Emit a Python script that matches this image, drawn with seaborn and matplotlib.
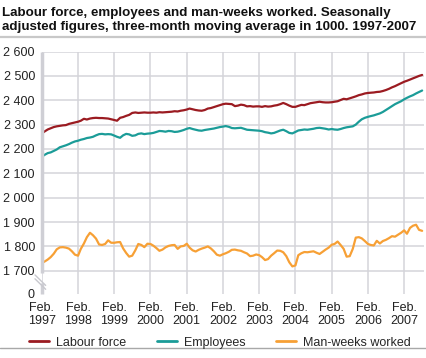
import pandas as pd
import seaborn as sns
import matplotlib.pyplot as plt
import matplotlib.dates as mdates
import matplotlib.transforms as mtransforms
from matplotlib.lines import Line2D

# monthly values, Feb 1997 - Aug 2007 (1000 persons / 1000 man-weeks)
labour_force = [
    2264, 2272, 2280, 2285, 2290, 2293, 2295, 2297, 2298, 2303, 2306, 2309,
    2312, 2316, 2324, 2321, 2325, 2327, 2328, 2327, 2327, 2326, 2325, 2322,
    2319, 2316, 2328, 2331, 2336, 2340, 2348, 2350, 2348, 2349, 2350, 2349,
    2349, 2350, 2349, 2351, 2350, 2351, 2352, 2353, 2355, 2354, 2357, 2359,
    2362, 2366, 2363, 2360, 2358, 2357, 2360, 2366, 2368, 2372, 2376, 2380,
    2384, 2386, 2385, 2384, 2376, 2378, 2382, 2380, 2375, 2376, 2374, 2375,
    2375, 2373, 2376, 2374, 2375, 2378, 2380, 2384, 2389, 2384, 2378, 2373,
    2373, 2377, 2381, 2380, 2384, 2388, 2390, 2392, 2394, 2392, 2391, 2391,
    2392, 2394, 2396, 2401, 2406, 2404, 2408, 2412, 2416, 2421, 2424, 2428,
    2430, 2431, 2432, 2434, 2435, 2438, 2442, 2447, 2453, 2458, 2464, 2470,
    2476, 2480, 2485, 2490, 2495, 2500, 2504,
]
employees = [
    2168, 2176, 2183, 2186, 2192, 2198, 2207, 2211, 2215, 2220, 2226, 2231,
    2234, 2238, 2241, 2245, 2247, 2250, 2256, 2261, 2262, 2260, 2261, 2260,
    2255, 2250, 2246, 2256, 2262, 2260, 2254, 2256, 2262, 2264, 2261, 2263,
    2264, 2266, 2270, 2274, 2273, 2271, 2274, 2273, 2270, 2271, 2274, 2278,
    2283, 2286, 2282, 2279, 2276, 2275, 2278, 2280, 2282, 2284, 2287, 2290,
    2292, 2294, 2291, 2286, 2285, 2286, 2287, 2283, 2279, 2278, 2277, 2276,
    2275, 2273, 2269, 2267, 2264, 2266, 2271, 2276, 2279, 2273, 2266, 2264,
    2270, 2276, 2278, 2280, 2279, 2281, 2283, 2286, 2287, 2285, 2283, 2280,
    2282, 2280, 2279, 2282, 2286, 2289, 2291, 2293, 2300, 2312, 2322, 2328,
    2332, 2335, 2338, 2342, 2346, 2352, 2360, 2368, 2376, 2384, 2390, 2396,
    2404, 2410, 2416, 2421, 2428, 2434, 2440,
]
man_weeks = [
    1732, 1738, 1746, 1756, 1770, 1788, 1796, 1797, 1795, 1791, 1780, 1766,
    1762, 1790, 1812, 1838, 1856, 1846, 1832, 1808, 1806, 1810, 1825, 1815,
    1815, 1817, 1818, 1792, 1773, 1758, 1762, 1784, 1810, 1806, 1797, 1811,
    1810, 1803, 1793, 1782, 1787, 1796, 1802, 1805, 1806, 1790, 1800, 1802,
    1811, 1795, 1784, 1779, 1786, 1791, 1795, 1800, 1792, 1780, 1766, 1762,
    1768, 1772, 1778, 1786, 1787, 1784, 1782, 1776, 1771, 1760, 1762, 1767,
    1764, 1756, 1744, 1748, 1762, 1772, 1783, 1782, 1776, 1760, 1735, 1718,
    1722, 1764, 1772, 1777, 1776, 1778, 1780, 1774, 1769, 1778, 1787, 1795,
    1807, 1810, 1820, 1806, 1790, 1758, 1760, 1790, 1836, 1838, 1833, 1822,
    1810, 1806, 1804, 1823, 1812, 1822, 1827, 1834, 1842, 1840, 1848, 1856,
    1866, 1852, 1876, 1885, 1889, 1868, 1864,
]
series_names = ['Labour force', 'Employees', 'Man-weeks worked']
colors = ['#9b1b21', '#1b9c98', '#f7a035']
y_ticks = [1700, 1800, 1900, 2000, 2100, 2200, 2300, 2400, 2500, 2600]

months = pd.date_range('1997-02-01', periods=len(labour_force), freq='MS')
dados = pd.DataFrame({
    'Month': list(months) * 3,
    'Value': labour_force + employees + man_weeks,
    'Series': [s for s in series_names for _ in range(len(months))],
})

sns.set_style('white')
plt.rcParams['font.family'] = ['Liberation Sans', 'DejaVu Sans']
grid_col = '#d4d4da'

fig = plt.figure(figsize=(4.27, 3.58), dpi=100)
ax = fig.add_axes([0.098, 0.179, 0.895, 0.677])
sns.lineplot(data=dados, x='Month', y='Value', hue='Series', hue_order=series_names,
             palette=colors, linewidth=1.6, ax=ax, legend=False)

# y axis with a break: bottom tick stands for 0
bottom = 1605
ax.set_ylim(bottom, 2600)
ax.set_yticks([bottom] + y_ticks)
ax.set_yticklabels(['0'] + [f'{v:,}'.replace(',', ' ') for v in y_ticks])
ax.set_xlim(pd.Timestamp('1997-02-01'), pd.Timestamp('2007-08-20'))
ax.xaxis.set_major_locator(mdates.MonthLocator(bymonth=2))
ax.xaxis.set_major_formatter(mdates.DateFormatter('Feb.\n%Y'))
ax.xaxis.set_minor_locator(mdates.MonthLocator())
ax.set_xlabel('')
ax.set_ylabel('')

ax.grid(True, color=grid_col, linewidth=1.1)
ax.get_ygridlines()[0].set_visible(False)
for s in ax.spines.values():
    s.set_visible(False)
ax.tick_params(axis='y', length=0, pad=5, labelsize=9, labelcolor='#222222')
ax.tick_params(axis='x', which='major', length=0, pad=6, labelsize=9,
               labelcolor='#222222')
ax.tick_params(axis='x', which='minor', direction='in', length=5, width=0.9,
               color='#c8c8cc')
for lab in ax.get_xticklabels():
    lab.set_linespacing(1.05)

# left axis line with break marks
trans = mtransforms.blended_transform_factory(ax.transAxes, ax.transData)
ax.plot([0, 0], [1692, 2600], transform=trans, color='#cfcfd5', lw=2.5,
        clip_on=False, solid_capstyle='butt')
ax.plot([0, 0], [bottom, 1650], transform=trans, color='#cfcfd5', lw=2.5,
        clip_on=False, solid_capstyle='butt')
for dy in (0, -16):
    ax.plot([-0.018, 0.010], [1683 + dy, 1640 + dy], transform=trans,
            color='#c8c8ce', lw=1.0, clip_on=False)

fig.text(0.005, 0.98,
         'Labour force, employees and man-weeks worked. Seasonally\n'
         'adjusted figures, three-month moving average in 1000. 1997-2007',
         ha='left', va='top', fontsize=9.6, fontweight='bold', color='#111111',
         linespacing=1.15)
fig.add_artist(Line2D([0, 1], [1 - 37 / 358] * 2, color='#c8c8c8', lw=1.6))
fig.add_artist(Line2D([0, 1], [1 - 348 / 358] * 2, color='#a8a8a8', lw=1.0))

handles = [Line2D([], [], color=c, lw=2) for c in colors]
fig.legend(handles, series_names, loc='center', bbox_to_anchor=(0.515, 0.043),
           ncol=3, frameon=False, fontsize=9, handlelength=1.6,
           columnspacing=2.4, handletextpad=0.6)

fig.savefig('out.png', dpi=100)
